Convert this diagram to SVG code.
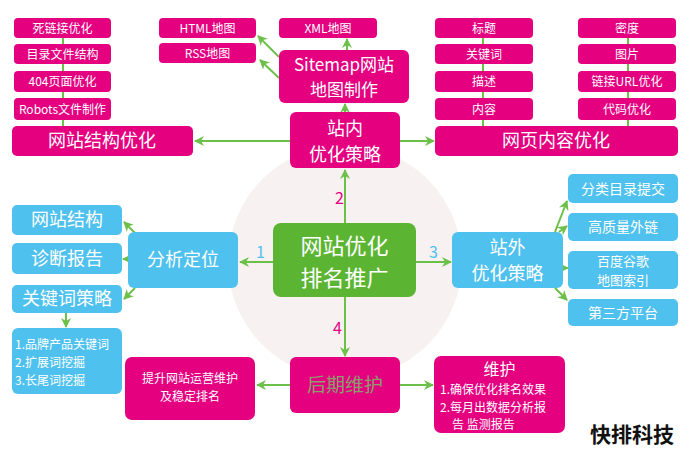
<svg xmlns="http://www.w3.org/2000/svg" width="690" height="456" viewBox="0 0 690 456">
<style>
.m{fill:#e4007f}
.b{fill:#4fc1ee}
.t{fill:#fff;font-family:"Noto Sans CJK SC","Noto Sans",sans-serif;text-anchor:middle}
.s12{font-size:12px}
.s18{font-size:18px}
.c{stroke:#6cc04a;stroke-width:2;fill:none}
.v{stroke:#6cc04a;stroke-width:2;fill:none}
</style>
<defs>
<marker id="ah" viewBox="0 0 10 10" refX="9" refY="5" markerWidth="5" markerHeight="5" orient="auto">
<path d="M0,0 L10,5 L0,10 L3,5 Z" fill="#6cc04a"/>
</marker>
</defs>
<rect width="690" height="456" fill="#fff"/>
<circle cx="345" cy="262" r="117" fill="#f8f1f1"/>

<g id="connectors">
<line class="v" x1="63" y1="38" x2="63" y2="126"/>
<line class="v" x1="483" y1="38" x2="483" y2="126"/>
<line class="v" x1="628" y1="38" x2="628" y2="126"/>
<line class="c" x1="279" y1="57" x2="258" y2="36" marker-end="url(#ah)"/>
<line class="c" x1="279" y1="78" x2="260" y2="60" marker-end="url(#ah)"/>
<line class="c" x1="347" y1="50" x2="347" y2="39" marker-end="url(#ah)"/>
<line class="c" x1="345" y1="112" x2="345" y2="104" marker-end="url(#ah)"/>
<line class="c" x1="290" y1="141" x2="195" y2="141" marker-end="url(#ah)"/>
<line class="c" x1="400" y1="141" x2="434" y2="141" marker-end="url(#ah)"/>
<line class="c" x1="345" y1="223" x2="345" y2="170" marker-end="url(#ah)"/>
<line class="c" x1="345" y1="297" x2="345" y2="356" marker-end="url(#ah)"/>
<line class="c" x1="273" y1="262" x2="240" y2="262" marker-end="url(#ah)"/>
<line class="c" x1="416" y1="262" x2="451" y2="262" marker-end="url(#ah)"/>
<line class="c" x1="135" y1="233" x2="124" y2="222" marker-end="url(#ah)"/>
<line class="c" x1="128" y1="259" x2="123" y2="259" marker-end="url(#ah)"/>
<line class="c" x1="135" y1="288" x2="124" y2="299" marker-end="url(#ah)"/>
<line class="c" x1="66" y1="313" x2="66" y2="327" marker-end="url(#ah)"/>
<line class="c" x1="555" y1="232" x2="567" y2="201" marker-end="url(#ah)"/>
<line class="c" x1="559" y1="232" x2="567" y2="226" marker-end="url(#ah)"/>
<line class="c" x1="563" y1="268" x2="568" y2="268" marker-end="url(#ah)"/>
<line class="c" x1="555" y1="288" x2="567" y2="300" marker-end="url(#ah)"/>
<line class="c" x1="290" y1="385" x2="257" y2="385" marker-end="url(#ah)"/>
<line class="c" x1="400" y1="385" x2="433" y2="385" marker-end="url(#ah)"/>
</g>
<g font-family="'Noto Sans CJK SC',sans-serif" font-size="16">
<text x="256" y="258" fill="#4fc1ee">1</text>
<text x="335" y="204" fill="#e4007f">2</text>
<text x="429" y="258" fill="#4fc1ee">3</text>
<text x="333" y="334" fill="#e4007f">4</text>
</g>

<g id="n-silian"><rect class="m" x="14" y="18" width="97" height="20" rx="4"/><text class="t s12" x="62.5" y="32.5">死链接优化</text></g>
<g id="n-mulu"><rect class="m" x="14" y="44" width="97" height="20" rx="4"/><text class="t s12" x="62.5" y="58.5">目录文件结构</text></g>
<g id="n-404"><rect class="m" x="14" y="71" width="97" height="21" rx="4"/><text class="t s12" x="62.5" y="86">404页面优化</text></g>
<g id="n-robots"><rect class="m" x="14" y="98" width="97" height="22" rx="4"/><text class="t s12" x="62.5" y="113.5">Robots文件制作</text></g>
<g id="n-jiegou"><rect class="m" x="12" y="126" width="181" height="30" rx="5"/><text class="t s18" x="102" y="147">网站结构优化</text></g>

<g id="n-html"><rect class="m" x="159" y="18" width="97" height="20" rx="4"/><text class="t s12" x="207.5" y="32.5">HTML地图</text></g>
<g id="n-rss"><rect class="m" x="159" y="43" width="97" height="20" rx="4"/><text class="t s12" x="207.5" y="57.5">RSS地图</text></g>
<g id="n-xml"><rect class="m" x="279" y="18" width="98" height="20" rx="4"/><text class="t s12" x="328" y="32.5">XML地图</text></g>
<g id="n-sitemap"><rect class="m" x="279" y="50" width="130" height="53" rx="6"/><text class="t" font-size="17" x="344" y="71">Sitemap网站</text><text class="t" font-size="17" x="344" y="96">地图制作</text></g>
<g id="n-zhannei"><rect class="m" x="290" y="112" width="110" height="56" rx="6"/><text class="t s18" x="345" y="135">站内</text><text class="t s18" x="345" y="161">优化策略</text></g>

<g id="n-biaoti"><rect class="m" x="435" y="18" width="98" height="20" rx="4"/><text class="t s12" x="484" y="32.5">标题</text></g>
<g id="n-guanjianci"><rect class="m" x="435" y="44" width="98" height="20" rx="4"/><text class="t s12" x="484" y="58.5">关键词</text></g>
<g id="n-miaoshu"><rect class="m" x="435" y="71" width="98" height="21" rx="4"/><text class="t s12" x="484" y="86">描述</text></g>
<g id="n-neirong"><rect class="m" x="435" y="98" width="98" height="22" rx="4"/><text class="t s12" x="484" y="113.5">内容</text></g>
<g id="n-midu"><rect class="m" x="578" y="18" width="98" height="20" rx="4"/><text class="t s12" x="627" y="32.5">密度</text></g>
<g id="n-tupian"><rect class="m" x="578" y="44" width="98" height="20" rx="4"/><text class="t s12" x="627" y="58.5">图片</text></g>
<g id="n-url"><rect class="m" x="578" y="71" width="98" height="21" rx="4"/><text class="t s12" x="627" y="86">链接URL优化</text></g>
<g id="n-daima"><rect class="m" x="578" y="98" width="98" height="22" rx="4"/><text class="t s12" x="627" y="113.5">代码优化</text></g>
<g id="n-wangye"><rect class="m" x="435" y="126" width="243" height="30" rx="5"/><text class="t s18" x="556" y="147">网页内容优化</text></g>

<g id="n-center"><rect x="273" y="223" width="143" height="74" rx="8" fill="#5bb533"/><text class="t" font-size="22" x="344.5" y="254">网站优化</text><text class="t" font-size="22" x="344.5" y="286">排名推广</text></g>

<g id="n-fenxi"><rect class="b" x="128" y="232" width="110" height="56" rx="6"/><text class="t s18" x="183" y="266">分析定位</text></g>
<g id="n-wzjg"><rect class="b" x="12" y="205" width="110" height="30" rx="5"/><text class="t s18" x="67" y="226">网站结构</text></g>
<g id="n-zhenduan"><rect class="b" x="12" y="243" width="110" height="31" rx="5"/><text class="t s18" x="67" y="265">诊断报告</text></g>
<g id="n-gjccl"><rect class="b" x="12" y="285" width="110" height="28" rx="5"/><text class="t s18" x="67" y="305">关键词策略</text></g>
<g id="n-list"><rect class="b" x="12" y="328" width="110" height="66" rx="6"/>
<g font-family="'Noto Sans CJK SC',sans-serif" font-size="12" fill="#fff"><text x="15" y="349">1.品牌产品关键词</text><text x="15" y="367">2.扩展词挖掘</text><text x="15" y="385">3.长尾词挖掘</text></g></g>

<g id="n-zhanwai"><rect class="b" x="452" y="232" width="111" height="56" rx="6"/><text class="t s18" x="507.5" y="254">站外</text><text class="t s18" x="507.5" y="280">优化策略</text></g>
<g id="n-fenlei"><rect class="b" x="568" y="174" width="110" height="29" rx="5"/><text class="t" font-size="14" x="623" y="193.5">分类目录提交</text></g>
<g id="n-gaozhiliang"><rect class="b" x="568" y="213" width="110" height="28" rx="5"/><text class="t" font-size="14" x="623" y="232">高质量外链</text></g>
<g id="n-baidu"><rect class="b" x="568" y="251" width="110" height="38" rx="5"/><text class="t" font-size="13" x="623" y="266">百度谷歌</text><text class="t" font-size="13" x="623" y="285">地图索引</text></g>
<g id="n-disanfang"><rect class="b" x="568" y="299" width="110" height="27" rx="5"/><text class="t" font-size="14" x="623" y="317.5">第三方平台</text></g>

<g id="n-houqi"><rect class="m" x="290" y="357" width="110" height="56" rx="6"/><text class="t" font-size="19" x="345" y="392" style="fill:#8a9f6e">后期维护</text></g>
<g id="n-tisheng"><rect class="m" x="125" y="357" width="130" height="63" rx="7"/><text class="t s12" x="190" y="383">提升网站运营维护</text><text class="t s12" x="190" y="401">及稳定排名</text></g>
<g id="n-weihu"><rect class="m" x="434" y="356" width="131" height="77" rx="7"/><text class="t" font-size="16" x="499.5" y="375">维护</text>
<g font-family="'Noto Sans CJK SC',sans-serif" font-size="12" fill="#fff"><text x="440" y="394">1.确保优化排名效果</text><text x="440" y="412">2.每月出数据分析报</text><text x="452" y="429">告  监测报告</text></g></g>

<text x="632" y="442" font-family="'Noto Sans CJK SC',sans-serif" font-size="21" font-weight="bold" text-anchor="middle" fill="#111">快排科技</text>
</svg>
